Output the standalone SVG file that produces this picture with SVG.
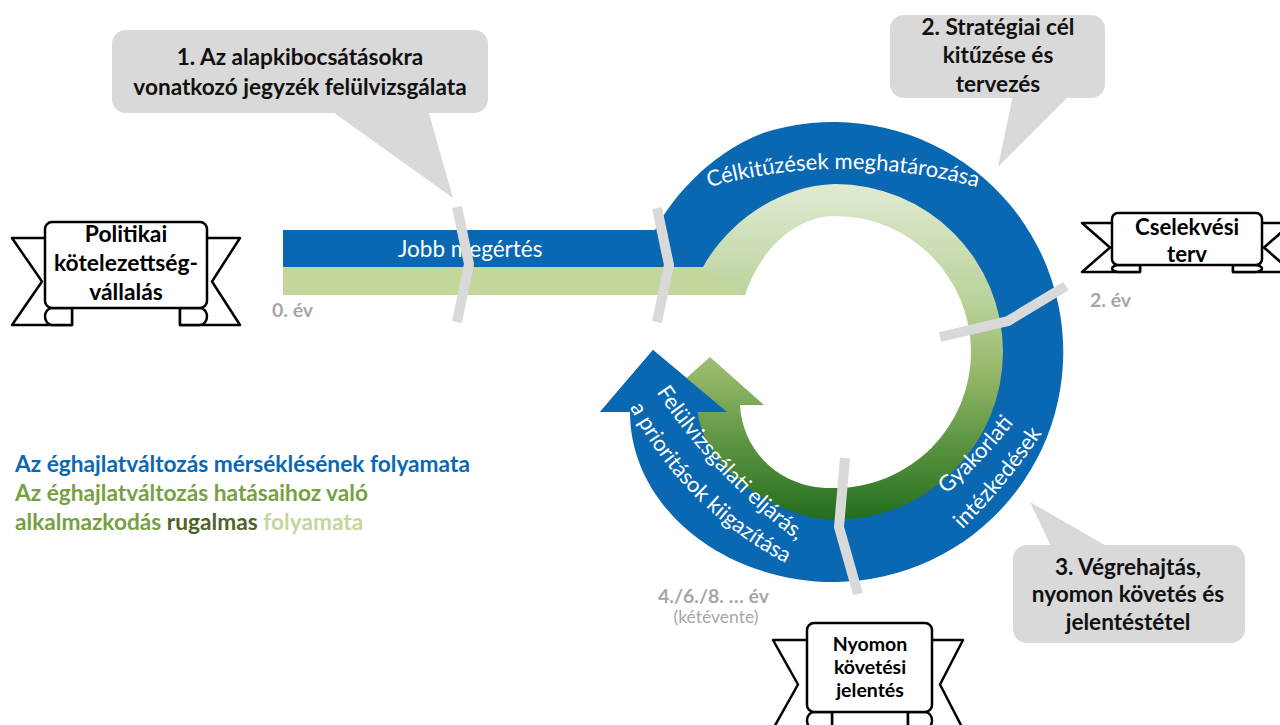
<svg xmlns="http://www.w3.org/2000/svg" width="1280" height="725" viewBox="0 0 1280 725">
<style>
.callout{fill:#d9d9d9}
.ct{font-family:Lato,"Liberation Sans",sans-serif;font-weight:bold;font-size:22.6px;fill:#111;text-anchor:middle}
.ban{fill:#fff;stroke:#000;stroke-width:2.5;stroke-linejoin:round}
.bt{font-family:Lato,"Liberation Sans",sans-serif;font-weight:bold;font-size:22.8px;fill:#000;text-anchor:middle}
.div{fill:none;stroke:#d9d9d9;stroke-width:10}
.wt{font-family:Lato,"Liberation Sans",sans-serif;font-size:22px;fill:#fff}
.yr{font-family:Lato,"Liberation Sans",sans-serif;font-weight:bold;font-size:19.5px;fill:#a6a6a6}
.lg{font-family:Lato,"Liberation Sans",sans-serif;font-weight:bold;font-size:22.7px}
.blue{fill:#0a68b2}
</style>
<defs>
<linearGradient id="gr" gradientUnits="userSpaceOnUse" x1="0" y1="184" x2="0" y2="520">
<stop offset="0" stop-color="#dfebd2"/>
<stop offset="0.35" stop-color="#bad29b"/>
<stop offset="0.55" stop-color="#98b96c"/>
<stop offset="0.78" stop-color="#5a9340"/>
<stop offset="1" stop-color="#226d1d"/>
</linearGradient>
<path id="p1" d="M680,196.3 A500,500 0 0 1 1006,196.3"/>
<path id="p2" d="M941.2,498.3 Q983.8,462.2 1017.8,417.9"/>
<path id="p3" d="M957.4,534 Q1007.8,485.9 1045.8,427.6"/>
<path id="p4" d="M654.5,389.5 Q714,478.5 799.5,542.5"/>
<path id="p5" d="M627,402 Q682,510 791,566"/>
</defs>

<g id="cycle">
<path class="blue" d="M283,230 H655 C668,205 705,155 763,133 A230,230 0 1 1 835,582 C722,582 630,506 630,412 H600 L653,350 L727,412 H715 C720,460 775,504 835,504 A152,152 0 1 0 709,267 H283 Z"/>
<rect x="283" y="267" width="462" height="28" fill="#c3d69b"/>
<path fill="url(#gr)" d="M703,267 C722,232 770,186 835,184 A168,168 0 0 1 1003,352 A168,168 0 0 1 835,520 C780,520 700,470 697,405 L656,405 L710,357 L764,405 L740,405 C742,450 780,490 835,488 A136,136 0 0 0 971,352 A136,136 0 0 0 835,216 C795,216 760,250 745,295 Z"/>
<polygon class="blue" points="600,412 653,350 727,412"/>
<text class="wt" x="398" y="257" style="font-size:22.5px">Jobb megértés</text>
<text class="wt" text-anchor="middle"><textPath href="#p1" startOffset="50%">Célkitűzések meghatározása</textPath></text>
<text class="wt" text-anchor="middle"><textPath href="#p2" startOffset="50%">Gyakorlati</textPath></text>
<text class="wt" text-anchor="middle"><textPath href="#p3" startOffset="50%">intézkedések</textPath></text>
<text class="wt" text-anchor="middle"><textPath href="#p4" startOffset="50%">Felülvizsgálati eljárás,</textPath></text>
<text class="wt" text-anchor="middle"><textPath href="#p5" startOffset="50%">a prioritások kiigazítása</textPath></text>
</g>

<g id="connectors">
<polyline class="div" points="457,207 469,264 457,322"/>
<polyline class="div" points="657,208 669,265 657,322"/>
<polyline class="div" points="1066,286 1008,321 940,337"/>
<polyline class="div" points="845,458 839,527 858,594"/>
</g>

<g id="callout1">
<rect class="callout" x="112" y="30" width="376" height="83" rx="14"/>
<polygon class="callout" points="330,110 428,110 453,198"/>
<text class="ct" x="300" y="65">1. Az alapkibocsátásokra</text>
<text class="ct" x="300" y="95">vonatkozó jegyzék felülvizsgálata</text>
</g>

<g id="callout2">
<rect class="callout" x="890" y="15" width="215" height="83" rx="14"/>
<polygon class="callout" points="1013,95 1070,95 998,167"/>
<text class="ct" x="998" y="35">2. Stratégiai cél</text>
<text class="ct" x="998" y="63">kitűzése és</text>
<text class="ct" x="998" y="92">tervezés</text>
</g>

<g id="callout3">
<rect class="callout" x="1013" y="545" width="232" height="98" rx="14"/>
<polygon class="callout" points="1052,548 1110,548 1030,502"/>
<text class="ct" x="1128" y="575">3. Végrehajtás,</text>
<text class="ct" x="1128" y="602">nyomon követés és</text>
<text class="ct" x="1128" y="630">jelentéstétel</text>
</g>

<g id="banner-politikai">
<path class="ban" d="M12,238 H72 V325 H12 L42,281.5 Z"/>
<path class="ban" d="M240,238 H180 V325 H240 L212,281.5 Z"/>
<path class="ban" d="M72,325 H52 A7,8.5 0 0 1 52,308 H72 Z"/>
<path class="ban" d="M180,325 H200 A7,8.5 0 0 0 200,308 H180 Z"/>
<rect class="ban" x="45" y="222" width="162" height="86" rx="7"/>
<text class="bt" x="126" y="242">Politikai</text>
<text class="bt" x="126" y="271">kötelezettség-</text>
<text class="bt" x="126" y="300">vállalás</text>
</g>

<g id="banner-cselekvesi">
<path class="ban" d="M1082,223 H1140 V272 H1082 L1110,247.5 Z"/>
<path class="ban" d="M1292,223 H1233 V272 H1292 L1264,247.5 Z"/>
<path class="ban" d="M1140,272 H1119 A7,3.5 0 0 1 1119,265 H1140 Z"/>
<path class="ban" d="M1233,272 H1255 A7,3.5 0 0 0 1255,265 H1233 Z"/>
<rect class="ban" x="1112" y="213" width="150" height="52" rx="6"/>
<text class="bt" x="1187" y="235" style="font-size:22.2px">Cselekvési</text>
<text class="bt" x="1187" y="262" style="font-size:22.2px">terv</text>
</g>

<g id="banner-nyomon">
<path class="ban" d="M773,640 H832 V729 H773 L798,684.5 Z"/>
<path class="ban" d="M963,640 H908 V729 H963 L940,684.5 Z"/>
<path class="ban" d="M832,729 H814 A7,8.5 0 0 1 814,712 H832 Z"/>
<path class="ban" d="M908,729 H925 A7,8.5 0 0 0 925,712 H908 Z"/>
<rect class="ban" x="807" y="623" width="125" height="89" rx="7"/>
<text class="bt" x="870" y="651" style="font-size:19.5px">Nyomon</text>
<text class="bt" x="870" y="674" style="font-size:19.5px">követési</text>
<text class="bt" x="870" y="697" style="font-size:19.5px">jelentés</text>
</g>

<g id="labels">
<text class="yr" x="272" y="317">0. év</text>
<text class="yr" x="1090" y="307">2. év</text>
<text class="yr" x="658" y="603">4./6./8. … év</text>
<text x="716" y="623" text-anchor="middle" style="font-family:Lato,'Liberation Sans',sans-serif;font-size:17.5px;fill:#a6a6a6">(kétévente)</text>
</g>

<g id="legend" class="lg">
<text x="15" y="472" fill="#0a68b2">Az éghajlatváltozás mérséklésének folyamata</text>
<text x="15" y="501" fill="#77a043">Az éghajlatváltozás hatásaihoz való</text>
<text x="15" y="530"><tspan fill="#77a043">alkalmazkodás </tspan><tspan fill="#4f6228">rugalmas</tspan><tspan fill="#c3d69b"> folyamata</tspan></text>
</g>
</svg>
